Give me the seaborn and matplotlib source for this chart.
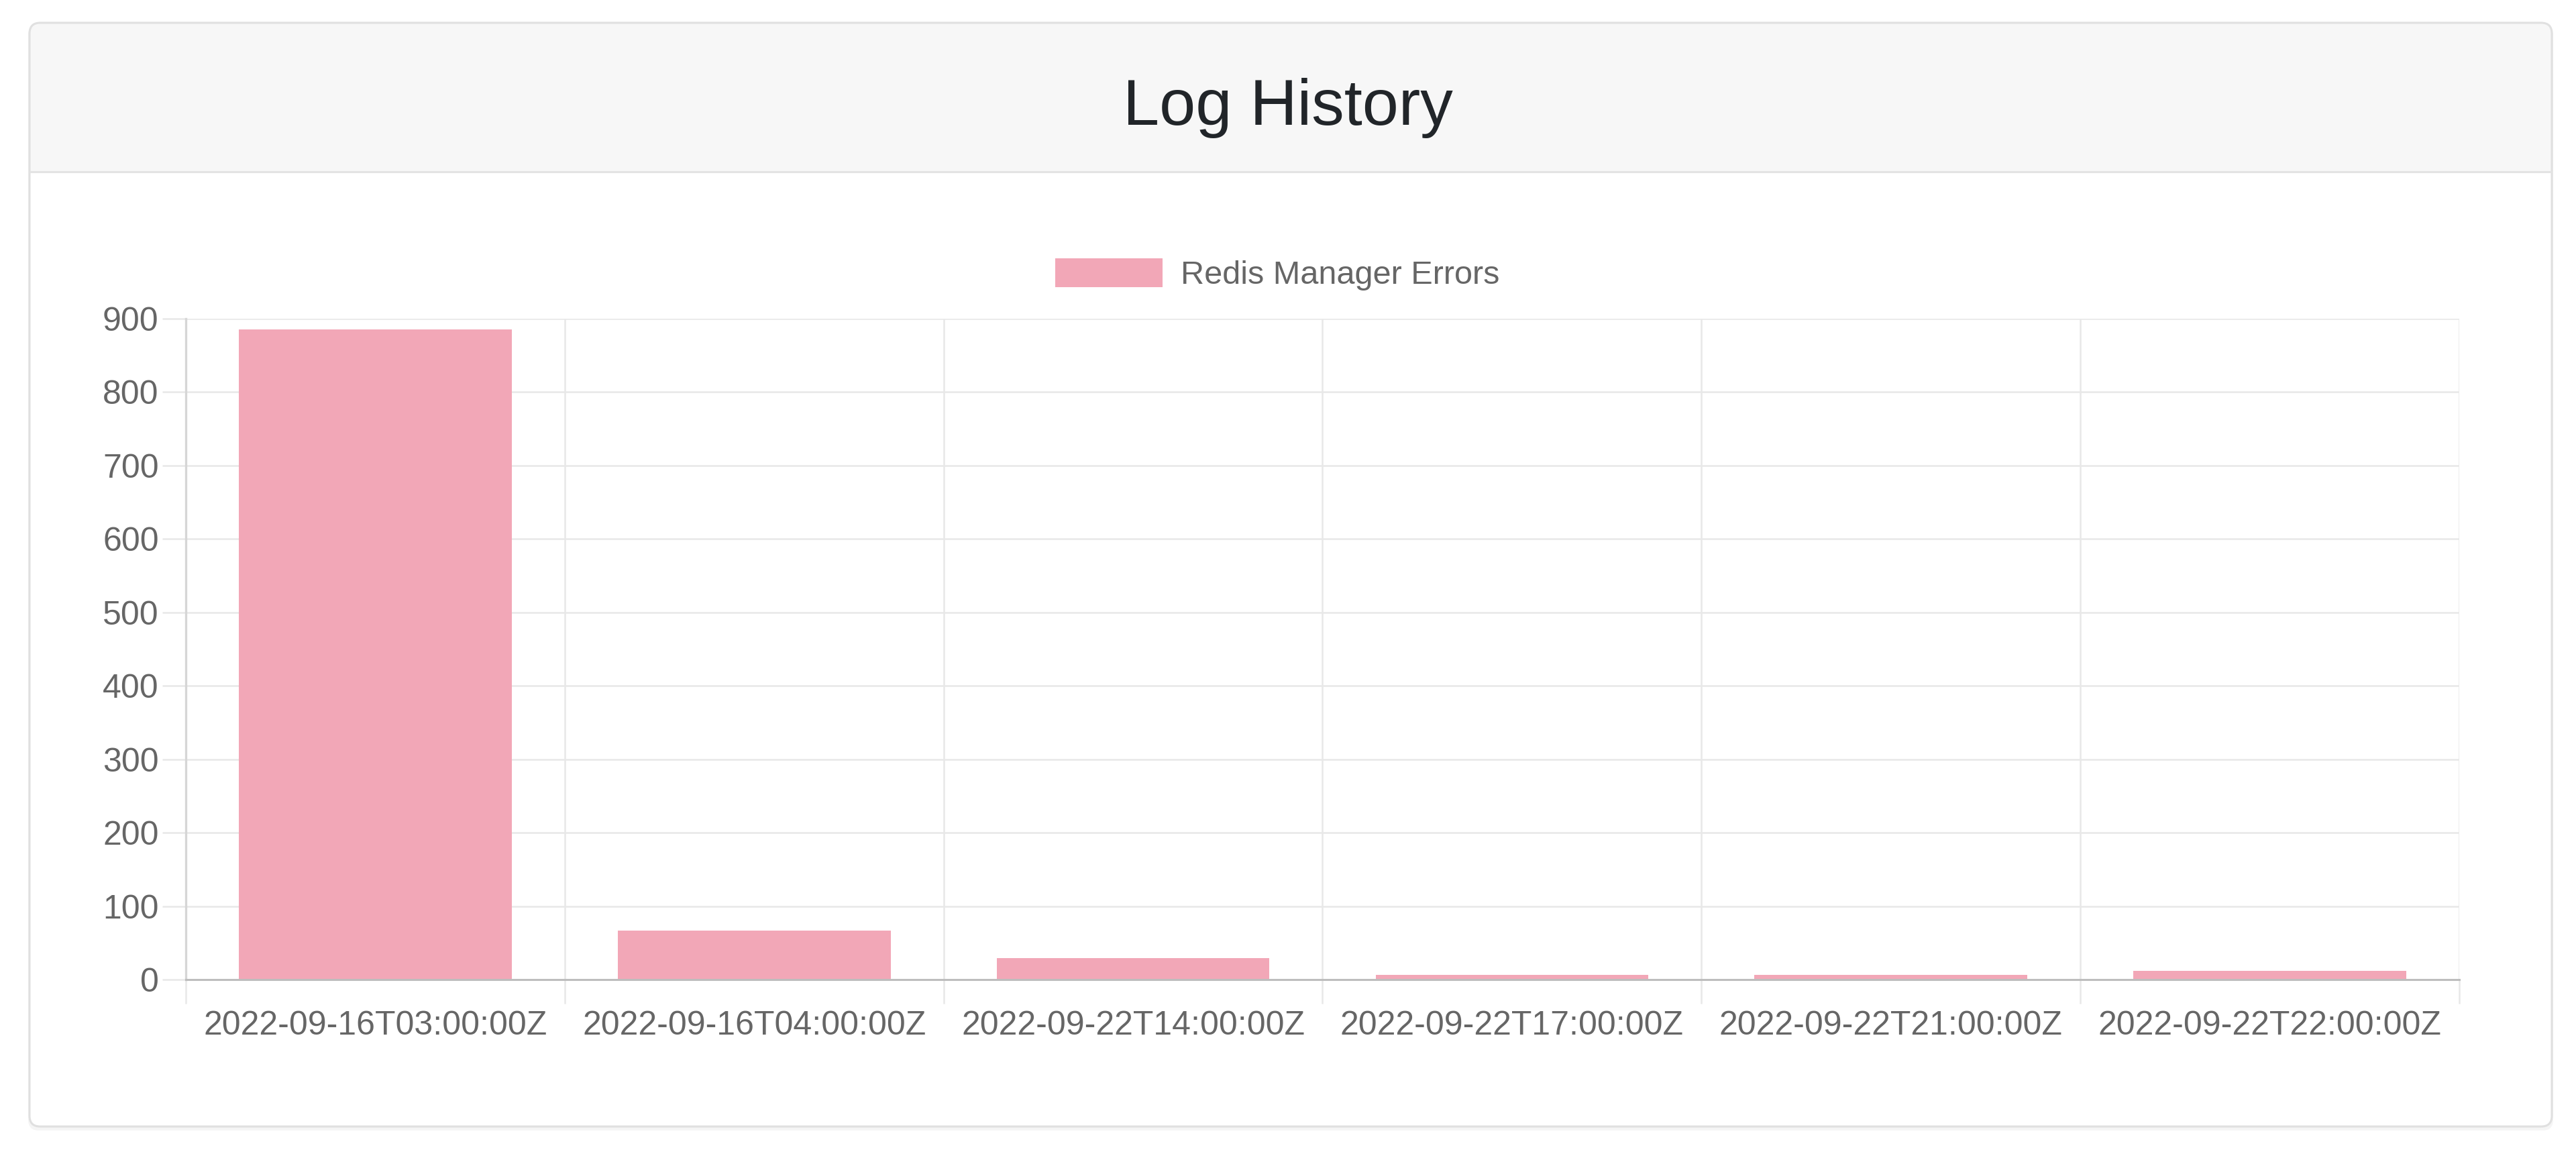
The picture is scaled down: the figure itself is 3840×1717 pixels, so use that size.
import matplotlib
matplotlib.use("Agg")
import matplotlib.pyplot as plt
from matplotlib.patches import FancyBboxPatch, Rectangle
from matplotlib.ticker import FixedLocator
import seaborn as sns
import pandas as pd

# ---- data ----
timestamps = [
    "2022-09-16T03:00:00Z",
    "2022-09-16T04:00:00Z",
    "2022-09-22T14:00:00Z",
    "2022-09-22T17:00:00Z",
    "2022-09-22T21:00:00Z",
    "2022-09-22T22:00:00Z",
]
error_counts = [885, 67, 29, 6, 6, 12]
series_name = "Redis Manager Errors"
title_text = "Log History"
y_ticks = [0, 100, 200, 300, 400, 500, 600, 700, 800, 900]

df = pd.DataFrame({"time": timestamps, "count": error_counts, "series": series_name})

sns.set_theme(style="white")
plt.rcParams["font.family"] = ["Liberation Sans", "DejaVu Sans"]

W, H = 3840, 1717
fig = plt.figure(figsize=(W / 100, H / 100), dpi=100)
fig.patch.set_facecolor("white")

# ---- card background (pixel coordinates) ----
bg = fig.add_axes([0, 0, 1, 1], zorder=-10)
bg.set_xlim(0, W)
bg.set_ylim(H, 0)
bg.axis("off")
cx0, cx1, cy0, cy1 = 44, 3804, 34, 1679
hdr = 256
rad = 16
# soft shadow
bg.add_patch(FancyBboxPatch((cx0 - 2, cy0 + 2), cx1 - cx0 + 4, cy1 - cy0 + 4,
                            boxstyle=f"round,pad=0,rounding_size={rad}",
                            facecolor="#000000", alpha=0.04, edgecolor="none"))
bg.add_patch(FancyBboxPatch((cx0, cy0), cx1 - cx0, cy1 - cy0,
                            boxstyle=f"round,pad=0,rounding_size={rad}",
                            facecolor="white", edgecolor="none"))
bg.add_patch(FancyBboxPatch((cx0, cy0), cx1 - cx0, hdr - cy0,
                            boxstyle=f"round,pad=0,rounding_size={rad}",
                            facecolor="#f7f7f7", edgecolor="none"))
bg.add_patch(Rectangle((cx0, hdr - 40), cx1 - cx0, 40, facecolor="#f7f7f7", edgecolor="none"))
bg.plot([cx0, cx1], [hdr, hdr], color="#e3e3e3", lw=2.2, solid_capstyle="butt")
bg.add_patch(FancyBboxPatch((cx0, cy0), cx1 - cx0, cy1 - cy0,
                            boxstyle=f"round,pad=0,rounding_size={rad}",
                            facecolor="none", edgecolor="#e0e0e0", lw=2.2))

fig.text(0.5, 1 - 186 / H, title_text, ha="center", va="baseline",
         fontsize=70, color="#212529")

# ---- chart ----
grid_c = "#e8e8e8"
ax = fig.add_axes([277 / W, 1 - 1460 / H, (3666 - 277) / W, (1460 - 475) / H])
ax.set_facecolor("white")

sns.barplot(data=df, x="time", y="count", hue="series", palette=["#f2a7b7"],
            saturation=1, width=0.72, dodge=False, linewidth=0, ax=ax, legend=True)

ax.set_xlim(-0.5, len(timestamps) - 0.5)
ax.set_ylim(0, 900)
ax.set_yticks(y_ticks)
ax.set_xlabel("")
ax.set_ylabel("")

ax.xaxis.set_minor_locator(FixedLocator([i - 0.5 for i in range(len(timestamps) + 1)]))
ax.grid(False)
ax.grid(which="minor", axis="x", color=grid_c, lw=1.8)
ax.grid(which="major", axis="y", color=grid_c, lw=1.8)
ax.set_axisbelow(True)

ax.tick_params(axis="x", which="major", length=0, pad=33, labelsize=36, labelcolor="#666666")
ax.tick_params(axis="x", which="minor", length=26, width=1.8, color=grid_c, direction="out")
ax.tick_params(axis="y", which="major", length=25, width=1.8, color=grid_c, pad=4,
               labelsize=36, labelcolor="#666666", left=True)
ax.tick_params(axis="x", which="minor", bottom=True)

for s in ["top", "right"]:
    ax.spines[s].set_visible(False)
ax.spines["left"].set_color("#d6d6d6")
ax.spines["left"].set_linewidth(2.4)
ax.spines["bottom"].set_color("#bdbdbd")
ax.spines["bottom"].set_linewidth(2.2)

# legend
handles, labels = ax.get_legend_handles_labels()
ax.legend(handles, labels, loc="center", bbox_to_anchor=(0.4959, 1 - 409 / H),
          bbox_transform=fig.transFigure, frameon=False, fontsize=35,
          handlelength=3.3, handleheight=1.0, handletextpad=0.55, labelcolor="#666666")

fig.savefig("out.png", dpi=100, facecolor="white")
